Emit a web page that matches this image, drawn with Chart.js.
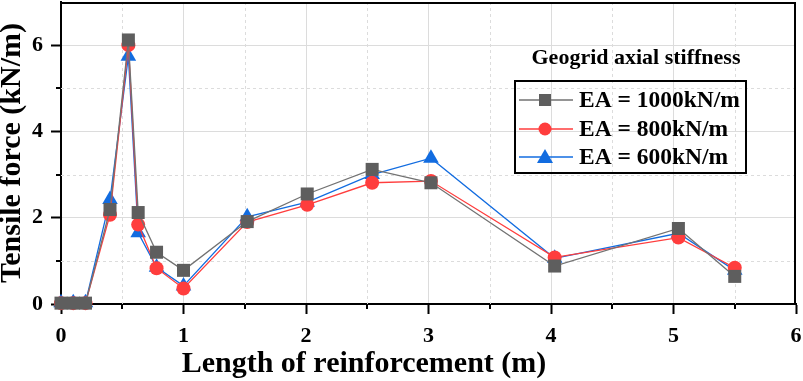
<!DOCTYPE html>
<html>
<head>
<meta charset="utf-8">
<script src="https://cdn.jsdelivr.net/npm/chart.js"></script>
<style>
html,body{margin:0;padding:0;background:#fff;}
#wrap{width:803px;height:381px;position:relative;}
</style>
</head>
<body>
<div id="wrap"><canvas id="c" width="803" height="381"></canvas></div>
<script>
// ---- data ----
const lengths = [0, 0.1, 0.2, 0.4, 0.55, 0.63, 0.78, 1.0, 1.52, 2.01, 2.54, 3.02, 4.03, 5.04, 5.5];
const ea1000 = [0.02, 0.02, 0.02, 2.19, 6.12, 2.12, 1.20, 0.78, 1.91, 2.55, 3.12, 2.81, 0.88, 1.75, 0.64];
const ea800  = [0.02, 0.02, 0.02, 2.07, 6.00, 1.84, 0.83, 0.36, 1.90, 2.30, 2.81, 2.85, 1.08, 1.54, 0.84];
const ea600  = [0.03, 0.03, 0.03, 2.42, 5.74, 1.65, 0.85, 0.42, 2.02, 2.36, 3.00, 3.38, 1.06, 1.64, 0.78];
const seriesNames = ['EA = 1000kN/m', 'EA = 800kN/m', 'EA = 600kN/m'];
const legendTitle = 'Geogrid axial stiffness';
const xTitle = 'Length of reinforcement (m)';
const yTitle = 'Tensile force (kN/m)';
const xTickLabels = ['0','1','2','3','4','5','6'];
const yTickLabels = ['0','2','4','6'];

const FONT = "'Liberation Serif', 'Times New Roman', serif";
const GRAY_M = '#5e5e5e', GRAY_L = '#727272';
const RED = '#ff3d3d';
const BLUE = '#126ce0';

function pts(ys){ return lengths.map((x,i)=>({x:x, y:ys[i]})); }

const isInt = v => Math.abs(v - Math.round(v)) < 1e-6;

const framePlugin = {
  id: 'frame',
  beforeDatasetsDraw(chart){
    const {ctx, chartArea:a, scales:{x, y}} = chart;
    ctx.save();
    ctx.strokeStyle = '#dcdcdc';
    ctx.lineWidth = 1;
    ctx.setLineDash([3,3]);
    for (let v = 0.5; v < 6; v += 1) {
      const px = Math.round(x.getPixelForValue(v)) + 0.5;
      ctx.beginPath(); ctx.moveTo(px, a.top); ctx.lineTo(px, a.bottom); ctx.stroke();
    }
    for (let v = 1; v < 7; v += 2) {
      const py = Math.round(y.getPixelForValue(v)) + 0.5;
      ctx.beginPath(); ctx.moveTo(a.left, py); ctx.lineTo(a.right, py); ctx.stroke();
    }
    ctx.restore();
  },
  afterDraw(chart){
    const {ctx, chartArea:a, scales:{x, y}} = chart;
    ctx.save();
    ctx.strokeStyle = '#000';
    ctx.lineWidth = 2;
    ctx.beginPath();
    ctx.moveTo(a.left, a.top + 1); ctx.lineTo(a.right - 1, a.top + 1); ctx.lineTo(a.right - 1, a.bottom);
    ctx.stroke();
    for (let v = 0.5; v < 6; v += 1) {
      const px = Math.round(x.getPixelForValue(v));
      ctx.beginPath(); ctx.moveTo(px, a.bottom); ctx.lineTo(px, a.bottom + 5); ctx.stroke();
    }
    for (let v = 1; v < 7; v += 2) {
      const py = Math.round(y.getPixelForValue(v));
      ctx.beginPath(); ctx.moveTo(a.left, py); ctx.lineTo(a.left - 5, py); ctx.stroke();
    }
    // x axis title (offset left of the plot centre, as in the original)
    ctx.fillStyle = '#000';
    ctx.font = 'bold 30px ' + FONT;
    ctx.textAlign = 'center';
    ctx.textBaseline = 'middle';
    ctx.fillText(xTitle, 364, 364);
    // legend
    ctx.font = 'bold 22px ' + FONT;
    ctx.fillText(legendTitle, 636, 58);
    ctx.lineWidth = 2;
    ctx.strokeStyle = '#000';
    ctx.strokeRect(515, 81, 231, 92);
    const rows = [100, 129, 157];
    const ds = chart.data.datasets;
    rows.forEach((ry, i) => {
      const d = ds[i];
      ctx.strokeStyle = d.borderColor;
      ctx.lineWidth = 1.3;
      ctx.beginPath(); ctx.moveTo(519, ry); ctx.lineTo(573, ry); ctx.stroke();
      ctx.fillStyle = d.pointBackgroundColor;
      const cx = 545;
      if (i === 0) { ctx.fillRect(cx - 6, ry - 6, 12, 12); }
      else if (i === 1) { ctx.beginPath(); ctx.arc(cx, ry, 6.5, 0, Math.PI*2); ctx.fill(); }
      else { ctx.beginPath(); ctx.moveTo(cx, ry - 8); ctx.lineTo(cx + 8, ry + 6); ctx.lineTo(cx - 8, ry + 6); ctx.closePath(); ctx.fill(); }
      ctx.fillStyle = '#000';
      ctx.font = 'bold 23.5px ' + FONT;
      ctx.textAlign = 'left';
      ctx.fillText(seriesNames[i], 579, ry + 1);
    });
    ctx.restore();
  }
};

new Chart(document.getElementById('c'), {
  type: 'scatter',
  data: {
    datasets: [
      { label: seriesNames[0], data: pts(ea1000), showLine: true, borderColor: GRAY_L, borderWidth: 1.3,
        pointStyle: 'rect', pointRadius: 9.2, pointBackgroundColor: GRAY_M, pointBorderWidth: 0, pointBorderColor: GRAY_M, clip: false },
      { label: seriesNames[1], data: pts(ea800), showLine: true, borderColor: RED, borderWidth: 1.3,
        pointStyle: 'circle', pointRadius: 7, pointBackgroundColor: RED, pointBorderWidth: 0, pointBorderColor: RED, clip: false },
      { label: seriesNames[2], data: pts(ea600), showLine: true, borderColor: BLUE, borderWidth: 1.3,
        pointStyle: 'triangle', pointRadius: 9, pointBackgroundColor: BLUE, pointBorderWidth: 0, pointBorderColor: BLUE, clip: false }
    ]
  },
  options: {
    responsive: false,
    animation: false,
    events: [],
    layout: { autoPadding: false, padding: { top: 2, right: 7, left: 0, bottom: 0 } },
    plugins: { legend: { display: false }, tooltip: { enabled: false } },
    scales: {
      x: {
        type: 'linear', min: 0, max: 6,
        afterFit(s){ s.height = 77; s.paddingLeft = 0; s.paddingRight = 0; s.paddingTop = 0; s.paddingBottom = 0; },
        ticks: {
          stepSize: 0.5, autoSkip: false, maxRotation: 0, padding: 9, color: '#000',
          font: { family: FONT, size: 22, weight: 'bold' },
          callback: v => isInt(v) ? xTickLabels[Math.round(v)] : ''
        },
        grid: {
          color: c => (c.tick && isInt(c.tick.value) && c.tick.value > 0 && c.tick.value < 6) ? '#dcdcdc' : 'rgba(0,0,0,0)',
          lineWidth: 1, drawTicks: true, tickLength: 10,
          tickColor: c => (c.tick && isInt(c.tick.value)) ? '#000' : 'rgba(0,0,0,0)', tickWidth: 2
        },
        border: { color: '#000', width: 2 },
        title: { display: false, text: xTitle }
      },
      y: {
        type: 'linear', min: 0, max: 7,
        afterFit(s){ s.width = 61; s.paddingLeft = 0; s.paddingRight = 0; s.paddingTop = 0; s.paddingBottom = 0; },
        ticks: {
          stepSize: 1, autoSkip: false, padding: 8, color: '#000',
          font: { family: FONT, size: 22, weight: 'bold' },
          callback: v => (isInt(v) && Math.round(v) % 2 === 0 && v < 7) ? yTickLabels[Math.round(v)/2] : ''
        },
        grid: {
          color: c => (c.tick && isInt(c.tick.value) && Math.round(c.tick.value) % 2 === 0 && c.tick.value > 0 && c.tick.value < 7) ? '#dcdcdc' : 'rgba(0,0,0,0)',
          lineWidth: 1, drawTicks: true, tickLength: 10,
          tickColor: c => (c.tick && isInt(c.tick.value) && Math.round(c.tick.value) % 2 === 0 && c.tick.value < 7) ? '#000' : 'rgba(0,0,0,0)', tickWidth: 2
        },
        border: { color: '#000', width: 2 },
        title: { display: true, text: yTitle, color: '#000', font: { family: FONT, size: 30, weight: 'bold', lineHeight: 1 }, padding: { top: -3, bottom: 0 } }
      }
    }
  },
  plugins: [framePlugin]
});
</script>
</body>
</html>
